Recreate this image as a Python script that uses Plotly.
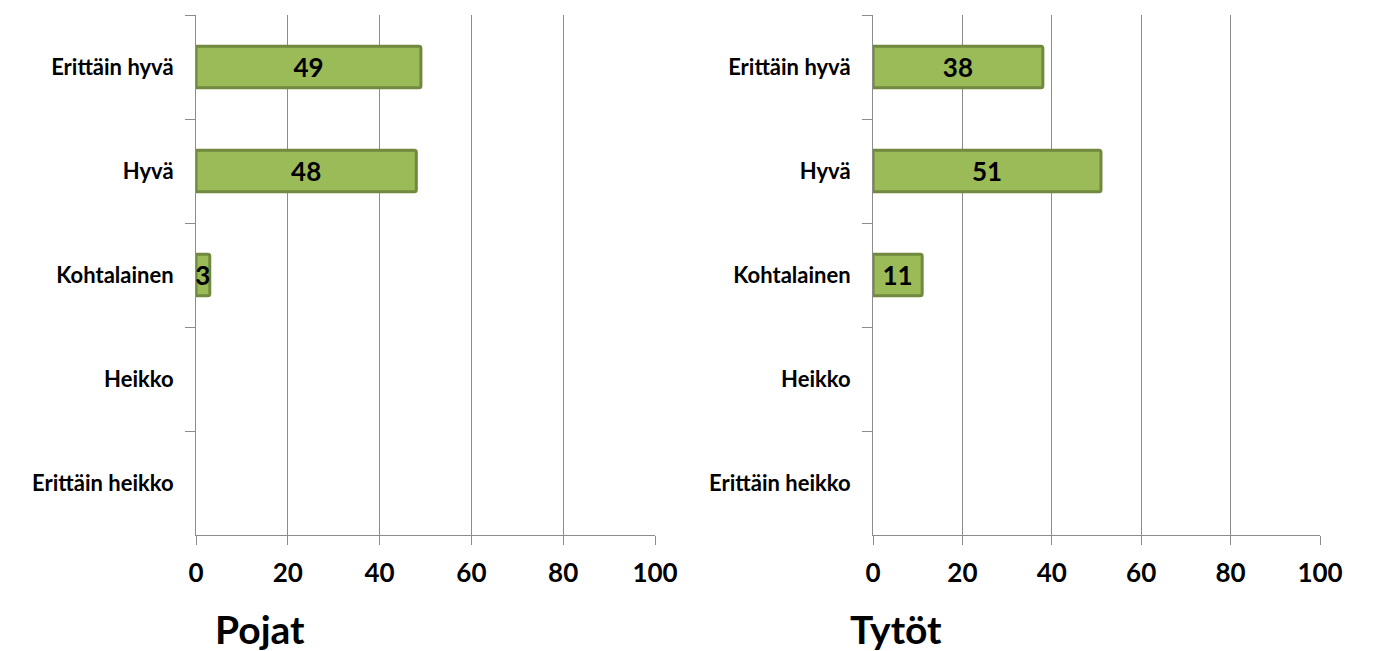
import plotly.graph_objects as go

categories = ["Erittäin hyvä", "Hyvä", "Kohtalainen", "Heikko", "Erittäin heikko"]
pojat = [49, 48, 3, None, None]
tytot = [38, 51, 11, None, None]
x_ticks = [0, 20, 40, 60, 80, 100]
panel_titles = ["Pojat", "Tytöt"]

FONT = "Lato"
FILL = "#9BBB59"
EDGE = "#71893F"
GRID = "#8C8C8C"

W, H = 1379, 651

fig = go.Figure()

panels = [
    (pojat, "x", "y", [196 / W, 655 / W]),
    (tytot, "x2", "y2", [873 / W, 1320 / W]),
]

for values, xa, ya, _ in panels:
    fig.add_trace(go.Bar(
        y=categories,
        x=values,
        orientation="h",
        xaxis=xa,
        yaxis=ya,
        marker=dict(color=FILL, line=dict(color=EDGE, width=3), cornerradius=2),
        text=[str(v) if v is not None else "" for v in values],
        textposition="inside",
        insidetextanchor="middle",
        constraintext="none",
        textfont=dict(family=FONT, size=26, color="black", weight="bold"),
        cliponaxis=False,
        showlegend=False,
        hoverinfo="skip",
    ))

layout = dict(
    width=W,
    height=H,
    margin=dict(l=0, r=0, t=0, b=0, autoexpand=False),
    paper_bgcolor="white",
    plot_bgcolor="white",
    bargap=0.6,
    font=dict(family=FONT, color="black"),
)

for i, (values, xa, ya, dom) in enumerate(panels):
    xkey = "xaxis" if i == 0 else "xaxis2"
    ykey = "yaxis" if i == 0 else "yaxis2"
    layout[xkey] = dict(
        domain=dom,
        range=[0, 100],
        tickvals=x_ticks,
        ticks="outside",
        ticklen=9,
        tickcolor=GRID,
        showgrid=True,
        gridcolor=GRID,
        gridwidth=1,
        showline=True,
        linecolor=GRID,
        linewidth=1,
        zeroline=False,
        anchor=ya,
        automargin=False,
        ticklabelstandoff=6,
        tickfont=dict(family=FONT, size=26, color="black", weight="bold"),
    )
    layout[ykey] = dict(
        domain=[1 - 535 / H, 1 - 15 / H],
        type="category",
        categoryorder="array",
        categoryarray=categories,
        autorange="reversed",
        tickson="boundaries",
        ticks="outside",
        ticklen=10,
        tickcolor=GRID,
        showgrid=False,
        showline=True,
        linecolor=GRID,
        linewidth=1,
        anchor=xa,
        automargin=False,
        ticklabelstandoff=17,
        tickfont=dict(family=FONT, size=22, color="black", weight="bold"),
    )

fig.update_layout(**layout)

# panel titles below each chart
title_left = [213, 848]
for px, title in zip(title_left, panel_titles):
    fig.add_annotation(
        x=px / W, y=1 - 629 / H, xref="paper", yref="paper",
        text=title, showarrow=False, xanchor="left", yanchor="middle",
        font=dict(family=FONT, size=39, color="black", weight="bold"),
    )

fig.write_html("out.html")
